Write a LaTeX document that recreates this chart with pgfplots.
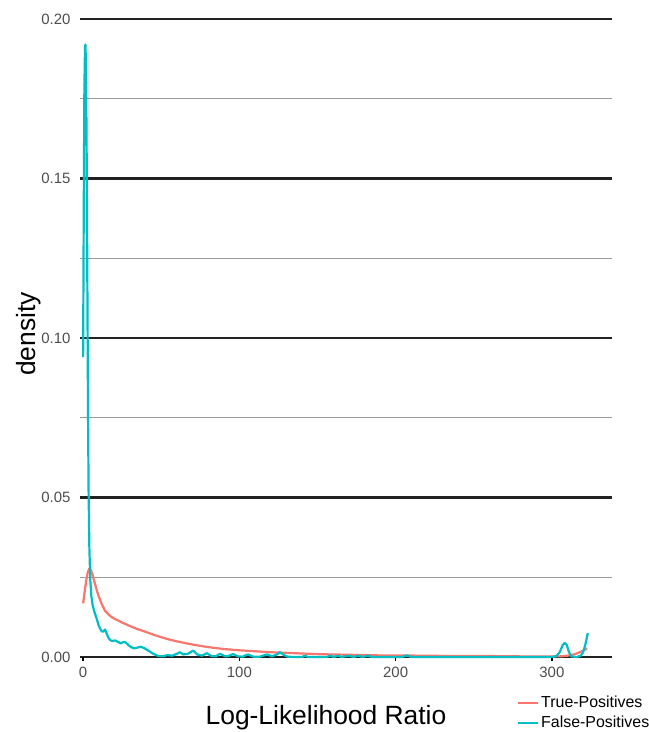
\documentclass[border=0pt]{standalone}
\usepackage{pgfplots}
\pgfplotsset{compat=1.18}
\usepackage{fontspec}
\setmainfont{Liberation Sans}
\definecolor{tpred}{HTML}{F8766D}
\definecolor{fpcyan}{HTML}{00BFC4}
\definecolor{gridmaj}{HTML}{222222}
\definecolor{gridmin}{HTML}{9A9A9A}
\definecolor{ticklab}{HTML}{4D4D4D}
\begin{document}
\begin{tikzpicture}
\begin{axis}[
  scale only axis, width=532bp, height=638bp,
  xmin=-2, xmax=338.5, ymin=0, ymax=0.2,
  axis line style={draw=none},
  clip=false,
  xtick={0,100,200,300},
  ytick={0,0.05,0.10,0.15,0.20},
  minor ytick={0.025,0.075,0.125,0.175},
  ymajorgrids, yminorgrids,
  major grid style={gridmaj, line width=2.5bp},
  minor grid style={gridmin, line width=0.9bp},
  ytick style={draw=none},
  minor tick length=0pt,
  xtick style={black, line width=1.5bp},
  tick align=outside,
  major tick length=4bp,
  xtick pos=left,
  ytick pos=left,
  scaled y ticks=false,
  /pgf/number format/assume math mode=true,
  yticklabel style={/pgf/number format/fixed, /pgf/number format/fixed zerofill, /pgf/number format/precision=2, font=\fontsize{15}{18}\selectfont, text=ticklab, xshift=-2bp},
  xticklabel style={font=\fontsize{15}{18}\selectfont, text=ticklab, yshift=-3bp},
  xlabel={Log-Likelihood Ratio}, ylabel={density},
  xlabel style={at={(axis description cs:0.4624,-0.0956)}, anchor=center, font=\fontsize{26.5}{30}\selectfont},
  ylabel style={at={(axis description cs:-0.0959,0.506)}, anchor=center, font=\fontsize{26.5}{30}\selectfont},
  legend cell align=left,
  legend style={at={(axis description cs:0.8214,-0.0580)}, anchor=north west, draw=none, fill=none, font=\fontsize{16}{19}\selectfont, inner sep=0pt, row sep=3bp, nodes={inner sep=2bp}},
  legend image code/.code={\draw[#1, line width=2bp] (0bp,0bp) -- (20bp,0bp);},
]
\addplot[tpred, line width=2.2bp, line join=round] coordinates {
(0,0.0168) (1,0.0205) (2,0.0240) (3,0.0266) (4,0.0277) (5,0.0272) (6,0.0258) (7,0.0240)
(8,0.0222) (9,0.0205) (10,0.0190) (12,0.0165) (14,0.0145) (16,0.0135) (18,0.0126)
(20,0.0120) (25,0.0108) (30,0.0097) (35,0.0087) (40,0.0079) (45,0.0070) (50,0.0062)
(55,0.0055) (60,0.0049) (65,0.0044) (70,0.0039) (75,0.0035) (80,0.0031) (90,0.0025)
(100,0.0021) (110,0.0018) (120,0.0015) (130,0.0013) (140,0.0011) (150,0.0009)
(160,0.0008) (170,0.0007) (180,0.0006) (190,0.0005) (200,0.0005) (220,0.0004)
(240,0.0003) (260,0.0003) (280,0.0002) (300,0.0002) (305,0.0002) (310,0.0004)
(314,0.0008) (317,0.0013) (320,0.0020) (322.5,0.0027)
};
\addlegendentry{True-Positives}
\addplot[fpcyan, line width=2.2bp, line join=round] coordinates {
(0,0.094) (0.4,0.140) (0.8,0.178) (1.2,0.191) (1.5,0.192) (1.9,0.183) (2.3,0.155)
(2.7,0.118) (3.1,0.080) (3.5,0.052) (4.0,0.034) (4.6,0.024) (5.3,0.019) (6.0,0.0165)
(7.0,0.0145) (8.0,0.0130) (9.0,0.0115) (10.0,0.0098) (11.0,0.0088) (12.0,0.0080)
(13.0,0.0080) (14.0,0.0086) (15.0,0.0075) (16.0,0.0062) (17.5,0.0052) (19,0.0050)
(20.5,0.0052) (22,0.0048) (24,0.0043) (26,0.0047) (27.5,0.0045) (29,0.0037)
(31,0.0030) (33,0.0027) (35,0.0030) (37,0.0032) (39,0.0028) (41,0.0022) (43,0.0016)
(45,0.0010) (48,0.0003) (51,0.0002) (54,0.0006) (57,0.0004) (60,0.0010) (62,0.0015)
(64,0.0008) (67,0.0010) (70.4,0.0020) (73,0.0008) (76,0.0004) (79.3,0.0012)
(82,0.0003) (85,0.0002) (87.6,0.0010) (91,0.0002) (93,0.0003) (96,0.0009)
(99,0.0002) (102,0.0001) (105.5,0.0008) (109,0.0001) (113,0.0001) (117.7,0.0008)
(121,0.0002) (124,0.0008) (126,0.0015) (128.5,0.0006) (131,0.0001) (135,0.0000)
(140,0.0000) (142,0.0004) (144,0.0000) (156,0.0000) (158,0.0004) (160.5,0.0000)
(163,0.0004) (165.5,0.0000) (170,0.0004) (173,0.0000) (176,0.0004) (179,0.0000)
(182,0.0004) (185,0.0000) (204,0.0000) (207,0.0005) (210,0.0000) (300,0.0000)
(303,0.0003) (305,0.0015) (307,0.0038) (308.3,0.0044) (309.5,0.0038) (311,0.0015)
(312.5,0.0002) (316,0.0000) (318.5,0.0004) (320,0.0015) (321.5,0.0040) (323,0.0075)
};
\addlegendentry{False-Positives}
\end{axis}
\pgfresetboundingbox
\useasboundingbox ([shift={(-80bp,-75bp)}]current axis.south west) rectangle ([shift={(37bp,19bp)}]current axis.north east);
\end{tikzpicture}
\end{document}
